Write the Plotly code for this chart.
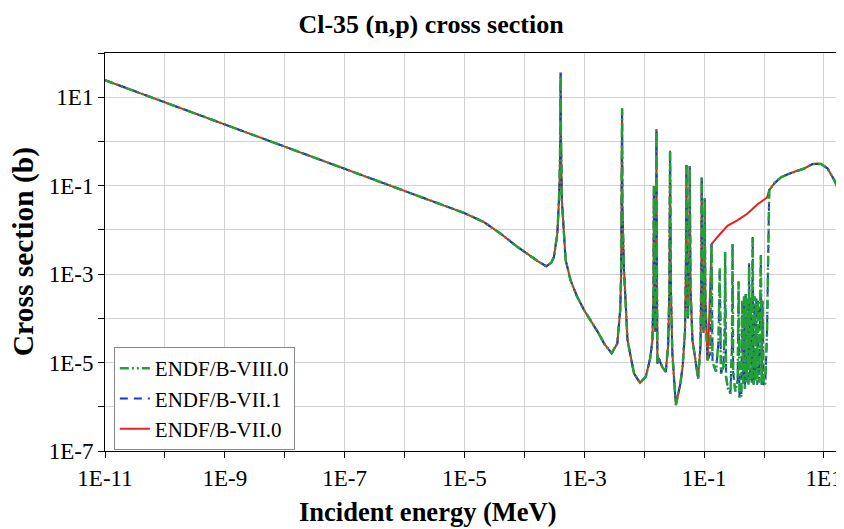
import plotly.graph_objects as go

# ---------------- data ----------------
# Energies in MeV, cross sections in barns.
# Part shared by all three evaluations (thermal + resolved resonances)
energy_low = [1e-11, 1e-10, 1e-9, 1e-8, 1e-7, 1e-6, 5.83e-6, 1e-5, 2.09e-5, 3.98e-5,
              7.59e-5, 1.26e-4, 1.64e-4, 2.32e-4, 2.82e-4, 3.11e-4, 3.39e-4, 3.55e-4,
              3.77e-4, 3.89e-4, 3.98e-4, 4.03e-4, 4.07e-4, 4.22e-4, 4.88e-4, 5.89e-4,
              7.59e-4, 1.0e-3, 1.28e-3, 1.70e-3, 2.14e-3, 2.86e-3, 3.55e-3, 3.98e-3,
              4.12e-3, 4.22e-3, 4.27e-3, 4.32e-3, 4.42e-3, 4.57e-3, 5.25e-3, 6.76e-3,
              8.51e-3, 1.06e-2, 1.13e-2, 1.26e-2, 1.37e-2, 1.43e-2, 1.45e-2, 1.48e-2,
              1.53e-2, 1.57e-2, 1.60e-2, 1.63e-2, 1.66e-2, 1.74e-2, 2.0e-2, 2.29e-2,
              2.51e-2, 2.63e-2, 2.70e-2, 2.78e-2, 2.95e-2, 3.37e-2, 3.98e-2, 4.37e-2,
              4.79e-2, 4.95e-2, 5.07e-2, 5.19e-2, 5.37e-2, 5.62e-2, 5.75e-2, 5.92e-2,
              6.38e-2, 7.94e-2, 8.71e-2, 8.95e-2, 9.12e-2, 9.33e-2, 9.77e-2, 0.1012,
              0.1023, 0.1047, 0.1135]
xs_low = [24.3, 7.67, 2.43, 0.767, 0.243, 0.0767, 0.0324, 0.024, 0.0151, 8.3e-3,
          4.17e-3, 2.51e-3, 2.0e-3, 1.51e-3, 1.82e-3, 2.45e-3, 5.0e-3, 8.3e-3,
          0.0468, 0.17, 1.5, 35.9, 1.5, 0.0468, 2.09e-3, 7.24e-4,
          3.09e-4, 1.51e-4, 9.12e-5, 4.79e-5, 2.69e-5, 1.62e-5, 2.69e-5, 1.58e-4,
          1.0e-3, 0.0316, 5.61, 0.0316, 5.0e-3, 1.48e-3, 3.24e-5, 5.62e-6,
          3.47e-6, 4.79e-6, 6.76e-6, 1.26e-5, 3.24e-5, 5.0e-4, 0.0977, 3.16e-4,
          5.0e-5, 1.0e-3, 1.88, 1.0e-3, 9.55e-6, 1.26e-5, 7.94e-6, 6.17e-6,
          2.51e-5, 5.0e-4, 0.617, 5.0e-4, 1.58e-5, 1.10e-6, 3.16e-6, 7.94e-6,
          5.0e-5, 1.0e-3, 0.295, 1.0e-3, 1.0e-4, 1.0e-3, 0.275, 5.0e-4,
          3.24e-5, 4.37e-6, 2.51e-5, 1.0e-3, 0.155, 1.0e-3, 4.68e-5, 1.0e-3,
          0.0513, 3.16e-4, 1.12e-5]

# ENDF/B-VII.0: smooth curve in the unresolved region
energy_vii0_mid = [0.120, 0.126, 0.133, 0.167, 0.245, 0.363, 0.531, 0.780, 1.035, 1.12]
xs_vii0_mid = [6.31e-5, 5.0e-4, 4.79e-3, 6.92e-3, 0.0123, 0.0166, 0.0234, 0.038, 0.049, 0.0537]

# ENDF/B-VIII.0 and ENDF/B-VII.1: resolved resonances up to ~1.2 MeV
energy_viii_mid = [0.126, 0.133, 0.138, 0.158, 0.174, 0.182, 0.191, 0.209, 0.221, 0.224,
                   0.232, 0.251, 0.275, 0.292, 0.298, 0.305, 0.331, 0.363, 0.376, 0.389,
                   0.417, 0.432, 0.447, 0.462, 0.479, 0.495, 0.513, 0.531, 0.550, 0.562,
                   0.582, 0.603, 0.624, 0.646, 0.668, 0.692, 0.716, 0.741, 0.767, 0.794,
                   0.822, 0.851, 0.885, 0.912, 0.944, 0.977, 1.047, 1.12, 1.16, 1.19]
xs_viii_mid = [1.58e-5, 4.79e-3, 1.0e-5, 6.31e-6, 3.16e-5, 1.35e-3, 5.62e-6, 7.94e-6, 6.31e-5, 3.16e-3,
               4.79e-6, 2.51e-6, 2.0e-6, 2.51e-5, 4.9e-3, 6.31e-6, 2.24e-6, 3.98e-6, 6.76e-4, 1.55e-6,
               1.78e-6, 2.51e-4, 3.16e-6, 3.16e-4, 2.51e-6, 3.55e-4, 3.55e-6, 2.82e-4, 3.16e-6, 1.74e-3,
               3.98e-6, 3.16e-4, 3.55e-6, 6.92e-3, 3.16e-6, 3.16e-4, 3.98e-6, 2.82e-4, 3.16e-6, 2.51e-4,
               3.55e-6, 3.98e-4, 2.69e-3, 3.16e-6, 2.51e-4, 3.16e-6, 3.39e-6, 4.68e-5, 3.16e-3, 0.0562]

# Shared fast-neutron part
energy_high = [1.22, 1.48, 1.91, 2.51, 3.20, 4.68, 6.46, 7.94, 8.91, 11.5, 14.8, 20.0]
xs_high = [0.0794, 0.112, 0.155, 0.182, 0.207, 0.245, 0.309, 0.316, 0.309, 0.245, 0.135, 0.0525]

series_names = ["ENDF/B-VII.0", "ENDF/B-VII.1", "ENDF/B-VIII.0"]

x_tick_vals = [1e-11, 1e-10, 1e-9, 1e-8, 1e-7, 1e-6, 1e-5, 1e-4, 1e-3, 1e-2, 1e-1, 1e0, 1e1]
x_tick_text = ["1E-11", "", "1E-9", "", "1E-7", "", "1E-5", "", "1E-3", "", "1E-1", "", "1E1"]
y_tick_vals = [1e-7, 1e-6, 1e-5, 1e-4, 1e-3, 1e-2, 1e-1, 1e0, 1e1, 1e2]
y_tick_text = ["1E-7", "", "1E-5", "", "1E-3", "", "1E-1", "", "1E1", ""]

# ---------------- figure ----------------
serif = "Liberation Serif, Times New Roman, serif"

e_vii0 = energy_low + energy_vii0_mid + energy_high
s_vii0 = xs_low + xs_vii0_mid + xs_high
e_viii = energy_low + energy_viii_mid + energy_high
s_viii = xs_low + xs_viii_mid + xs_high

fig = go.Figure()
fig.add_trace(go.Scatter(x=e_vii0, y=s_vii0, mode="lines", name=series_names[0],
                         line=dict(color="#e82020", width=2)))
fig.add_trace(go.Scatter(x=e_viii, y=s_viii, mode="lines", name=series_names[1],
                         line=dict(color="#2233c8", width=2, dash="8px,6px")))
fig.add_trace(go.Scatter(x=e_viii, y=s_viii, mode="lines", name=series_names[2],
                         line=dict(color="#22a035", width=2.5, dash="9px,3px,2px,3px,2px,3px")))

axis_common = dict(type="log", showline=True, linecolor="black", linewidth=1, mirror=True,
                   ticks="outside", ticklen=6, tickcolor="black", showgrid=True,
                   gridcolor="#d2d2d2", gridwidth=1, zeroline=False, tickmode="array",
                   automargin=False, ticklabeloverflow="allow",
                   tickfont=dict(family=serif, size=23, color="black"))

fig.update_xaxes(range=[-11, 1.301], tickvals=x_tick_vals, ticktext=x_tick_text, **axis_common)
fig.update_yaxes(range=[-7, 2], tickvals=y_tick_vals, ticktext=y_tick_text, **axis_common)

# The page adds an 8px body margin, so the figure is 8px smaller on each side.
fig.update_layout(
    width=836, height=521,
    margin=dict(l=97, r=2, t=45, b=78),
    paper_bgcolor="white", plot_bgcolor="white",
    title=dict(text="Cl-35 (n,p) cross section", x=0.506, xanchor="center", y=0.970,
               yanchor="middle", xref="container", yref="container",
               font=dict(family=serif, size=26, color="black", weight="bold")),
    showlegend=True,
    legend=dict(x=0.012, y=0.261, xanchor="left", yanchor="top", traceorder="reversed",
                bgcolor="white", bordercolor="#888888", borderwidth=1, itemwidth=30,
                font=dict(family=serif, size=21, color="black"), tracegroupgap=0),
    annotations=[
        dict(text="Incident energy (MeV)", xref="paper", yref="paper", x=0.438, y=-0.153,
             xanchor="center", yanchor="middle", showarrow=False,
             font=dict(family=serif, size=26.5, color="black", weight="bold")),
        dict(text="Cross section (b)", xref="paper", yref="paper", x=-0.111, y=0.50,
             xanchor="center", yanchor="middle", showarrow=False, textangle=-90,
             font=dict(family=serif, size=29.5, color="black", weight="bold")),
    ],
)

fig.write_html("out.html")
